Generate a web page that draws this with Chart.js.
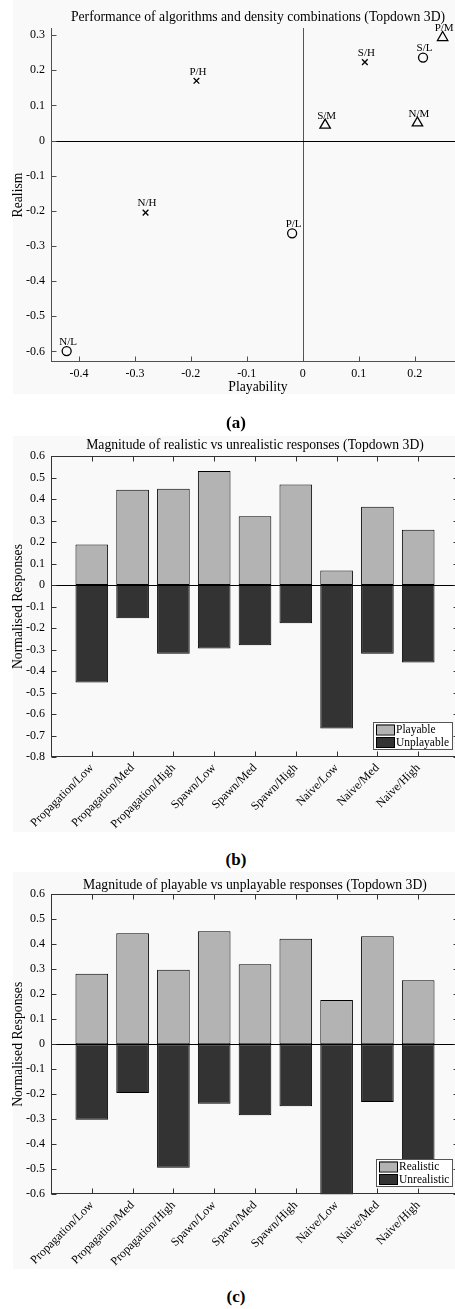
<!DOCTYPE html>
<html>
<head>
<meta charset="utf-8">
<title>Topdown 3D responses</title>
<script src="https://cdn.jsdelivr.net/npm/chart.js@4.4.0/dist/chart.umd.min.js"></script>
<style>
  html, body { margin: 0; padding: 0; background: #fff; overflow: hidden; width: 455px; height: 1309px; }
  .panel { position: absolute; left: 0; }
  .caption { position: absolute; left: 0; width: 472px; text-align: center; font: bold 17px "Liberation Serif", serif; color: #000; z-index: 2; }
</style>
</head>
<body>
<div class="panel" style="top:0"><canvas id="scatterChart" width="465" height="400"></canvas></div>
<div class="caption" style="top:413px">(a)</div>
<div class="panel" style="top:430px"><canvas id="realismChart" width="459" height="412"></canvas></div>
<div class="caption" style="top:850px">(b)</div>
<div class="panel" style="top:870px"><canvas id="playChart" width="459" height="412"></canvas></div>
<div class="caption" style="top:1287px">(c)</div>

<script>
// ---- scatter: playability vs realism, one series per density ----
const lowNames = ['N/L', 'P/L', 'S/L'];
const lowX = [-0.422, -0.019, 0.215];
const lowY = [-0.599, -0.264, 0.236];

const medNames = ['S/M', 'N/M', 'P/M'];
const medX = [0.040, 0.205, 0.250];
const medY = [0.044, 0.050, 0.293];

const highNames = ['P/H', 'S/H', 'N/H'];
const highX = [-0.190, 0.111, -0.281];
const highY = [0.170, 0.223, -0.205];

const scatterXTicks = [-0.4, -0.3, -0.2, -0.1, 0, 0.1, 0.2];
const scatterYTicks = [-0.6, -0.5, -0.4, -0.3, -0.2, -0.1, 0, 0.1, 0.2, 0.3];

// ---- bar charts ----
const categories = ['Propagation/Low', 'Propagation/Med', 'Propagation/High',
                    'Spawn/Low', 'Spawn/Med', 'Spawn/High',
                    'Naive/Low', 'Naive/Med', 'Naive/High'];
const categoryTicks = [1, 2, 3, 4, 5, 6, 7, 8, 9];

const playable   = [0.189, 0.443, 0.448, 0.530, 0.320, 0.468, 0.067, 0.364, 0.257];
const unplayable = [-0.453, -0.155, -0.320, -0.295, -0.280, -0.178, -0.667, -0.320, -0.360];
const realismTicks = [-0.8, -0.7, -0.6, -0.5, -0.4, -0.3, -0.2, -0.1, 0, 0.1, 0.2, 0.3, 0.4, 0.5, 0.6];

const realistic   = [0.282, 0.444, 0.298, 0.452, 0.320, 0.422, 0.177, 0.432, 0.256];
const unrealistic = [-0.302, -0.195, -0.494, -0.238, -0.284, -0.248, -0.660, -0.231, -0.520];
const playTicks = [-0.6, -0.5, -0.4, -0.3, -0.2, -0.1, 0, 0.1, 0.2, 0.3, 0.4, 0.5, 0.6];

const SERIF = '"Liberation Serif", "DejaVu Serif", serif';
const LIGHT = '#b3b3b3';
const DARK = '#333333';

function fmt(v) {
    return v === 0 ? '0' : v.toFixed(1);
}

function toPoints(xs, ys) {
    return xs.map((x, i) => ({ x: x, y: ys[i] }));
}

// keep the plot area exactly where the axes sizes put it
function fixX(h) {
    return s => { s.height = h; s.paddingLeft = 0; s.paddingRight = 0; };
}
function fixY(w) {
    return s => { s.width = w; s.paddingTop = 0; s.paddingBottom = 0; };
}

// faint figure background behind each panel
const figureBg = {
    id: 'figureBg',
    beforeDraw(chart, args, opts) {
        const ctx = chart.ctx;
        ctx.save();
        ctx.fillStyle = '#f9f9f9';
        ctx.fillRect(13, opts.y0, chart.width - 13, opts.y1 - opts.y0);
        ctx.restore();
    }
};

// matlab-ish axes: thin frame, ticks pointing inward, zero lines
const frameAxes = {
    id: 'frameAxes',
    afterDatasetsDraw(chart, args, opts) {
        const { ctx, chartArea: a, scales: { x, y } } = chart;
        const t = 5;
        const line = (x1, y1, x2, y2) => {
            ctx.beginPath();
            ctx.moveTo(x1, y1);
            ctx.lineTo(x2, y2);
            ctx.stroke();
        };
        ctx.save();
        ctx.lineWidth = 1;

        const y0 = Math.round(y.getPixelForValue(0)) + 0.5;
        if (opts.zeroX) {
            const x0 = Math.round(x.getPixelForValue(0)) + 0.5;
            ctx.strokeStyle = '#555';
            line(x0, a.top, x0, a.bottom);
        }
        ctx.strokeStyle = '#000';
        line(a.left, y0, a.right, y0);

        ctx.strokeStyle = opts.color;
        const L = Math.round(a.left) + 0.5;
        const B = Math.round(a.bottom) - 0.5;
        const T = Math.round(a.top) + 0.5;
        const R = Math.round(a.right) - 0.5;
        line(L, a.top, L, a.bottom);
        line(a.left, B, a.right, B);
        if (opts.box) {
            line(a.left, T, a.right, T);
            line(R, a.top, R, a.bottom);
        }
        y.ticks.forEach(tk => {
            const py = Math.round(y.getPixelForValue(tk.value)) + 0.5;
            line(L, py, L + t, py);
            if (opts.box) line(R - t, py, R, py);
        });
        x.ticks.forEach(tk => {
            const px = Math.round(x.getPixelForValue(tk.value)) + 0.5;
            line(px, B, px, B - t);
            if (opts.box) line(px, T, px, T + t);
        });
        ctx.restore();
    }
};

// names written just above each scatter marker
const pointNames = {
    id: 'pointNames',
    afterDatasetsDraw(chart) {
        const ctx = chart.ctx;
        ctx.save();
        ctx.font = '11px ' + SERIF;
        ctx.fillStyle = '#000';
        ctx.textAlign = 'center';
        ctx.textBaseline = 'middle';
        chart.data.datasets.forEach((ds, i) => {
            chart.getDatasetMeta(i).data.forEach((pt, j) => {
                ctx.fillText(ds.names[j], pt.x + 1.5, pt.y - 9);
            });
        });
        ctx.restore();
    }
};

// boxed legend sitting in the lower right corner of the plot
const boxLegend = {
    id: 'boxLegend',
    afterDraw(chart) {
        const { ctx, chartArea: a } = chart;
        const sets = chart.data.datasets;
        ctx.save();
        ctx.font = '11.5px ' + SERIF;
        const textW = Math.max(...sets.map(ds => ctx.measureText(ds.label).width));
        const w = Math.round(23 + textW + 3), h = 27;
        const right = Math.round(a.right) - 7, bottom = Math.round(a.bottom) - 8;
        const left = right - w, top = bottom - h;
        ctx.fillStyle = '#fff';
        ctx.fillRect(left, top, w, h);
        ctx.strokeStyle = '#555';
        ctx.lineWidth = 1;
        ctx.strokeRect(left + 0.5, top + 0.5, w, h);
        sets.forEach((ds, i) => {
            const cy = top + 7.5 + i * 12.5;
            ctx.fillStyle = ds.backgroundColor;
            ctx.fillRect(left + 3, cy - 5, 18, 10);
            ctx.strokeStyle = '#000';
            ctx.strokeRect(left + 3.5, cy - 4.5, 18, 10);
            ctx.fillStyle = '#000';
            ctx.textAlign = 'left';
            ctx.textBaseline = 'middle';
            ctx.fillText(ds.label, left + 23, cy + 0.5);
        });
        ctx.restore();
    }
};

const tickFont = { family: SERIF, size: 12 };
const titleFont = { family: SERIF, size: 13.7, weight: 'normal', lineHeight: 1.2 };
const noGrid = { display: false, drawTicks: false, tickLength: 0 };

// ---------- (a) scatter ----------
new Chart(document.getElementById('scatterChart'), {
    type: 'scatter',
    data: {
        datasets: [
            { label: 'Low', data: toPoints(lowX, lowY), names: lowNames,
              pointStyle: 'circle', pointRadius: 4.5 },
            { label: 'Med', data: toPoints(medX, medY), names: medNames,
              pointStyle: 'triangle', pointRadius: 6 },
            { label: 'High', data: toPoints(highX, highY), names: highNames,
              pointStyle: 'crossRot', pointRadius: 4 }
        ]
    },
    options: {
        responsive: false,
        animation: false,
        layout: { padding: 0, autoPadding: false },
        elements: {
            point: { borderColor: '#000', backgroundColor: 'rgba(0,0,0,0)', borderWidth: 1.3 }
        },
        scales: {
            x: {
                type: 'linear', min: -0.45, max: 0.29,
                afterBuildTicks: s => { s.ticks = scatterXTicks.map(v => ({ value: v })); },
                afterFit: fixX(38),
                grid: noGrid, border: { display: false },
                ticks: { font: tickFont, color: '#000', padding: 5, callback: v => fmt(v) },
                title: { display: true, text: 'Playability', font: titleFont, color: '#000',
                         padding: { top: 0, bottom: 4 } }
            },
            y: {
                type: 'linear', min: -0.63, max: 0.32,
                afterBuildTicks: s => { s.ticks = scatterYTicks.map(v => ({ value: v })); },
                afterFit: fixY(51),
                grid: noGrid, border: { display: false },
                ticks: { font: tickFont, color: '#000', padding: 6, callback: v => fmt(v) },
                title: { display: true, text: 'Realism', font: titleFont, color: '#000',
                         padding: { top: 10, bottom: 0 } }
            }
        },
        plugins: {
            legend: { display: false },
            tooltip: { enabled: false },
            title: {
                display: true, fullSize: false,
                text: 'Performance of algorithms and density combinations (Topdown 3D)',
                font: titleFont, color: '#000',
                padding: { top: 9, bottom: 2.6 }
            },
            figureBg: { y0: 0, y1: 394 },
            frameAxes: { box: false, zeroX: true, color: '#505050' }
        }
    },
    plugins: [figureBg, frameAxes, pointNames]
});

// ---------- (b) and (c) bars ----------
function barChart(id, posLabel, posVals, negLabel, negVals, yTicks, yMin, yMax, titleText, titlePad, xHeight, bg) {
    return new Chart(document.getElementById(id), {
        type: 'bar',
        data: {
            datasets: [
                { label: posLabel, data: toPoints(categoryTicks, posVals), backgroundColor: LIGHT },
                { label: negLabel, data: toPoints(categoryTicks, negVals), backgroundColor: DARK }
            ]
        },
        options: {
            responsive: false,
            animation: false,
            layout: { padding: 0, autoPadding: false },
            datasets: {
                bar: { borderColor: '#000', borderWidth: 1, borderSkipped: false,
                       categoryPercentage: 1, barPercentage: 0.8 }
            },
            scales: {
                x: {
                    type: 'linear', min: 0, max: 10, stacked: true, offset: false,
                    afterBuildTicks: s => { s.ticks = categoryTicks.map(v => ({ value: v })); },
                    afterFit: fixX(xHeight),
                    grid: noGrid, border: { display: false },
                    ticks: { font: { family: SERIF, size: 12 }, color: '#000', padding: 4,
                             autoSkip: false, minRotation: 45, maxRotation: 45,
                             callback: v => categories[v - 1] }
                },
                y: {
                    type: 'linear', min: yMin, max: yMax, stacked: true,
                    afterBuildTicks: s => { s.ticks = yTicks.map(v => ({ value: v })); },
                    afterFit: fixY(51),
                    grid: noGrid, border: { display: false },
                    ticks: { font: tickFont, color: '#000', padding: 6, callback: v => fmt(v) },
                    title: { display: true, text: 'Normalised Responses', font: titleFont, color: '#000',
                             padding: { top: 10, bottom: 0 } }
                }
            },
            plugins: {
                legend: { display: false },
                tooltip: { enabled: false },
                title: {
                    display: true, fullSize: false, text: titleText,
                    font: titleFont, color: '#000', padding: titlePad
                },
                figureBg: bg,
                frameAxes: { box: true, zeroX: false, color: '#333' }
            }
        },
        plugins: [figureBg, frameAxes, boxLegend]
    });
}

barChart('realismChart', 'Playable', playable, 'Unplayable', unplayable,
         realismTicks, -0.8, 0.6,
         'Magnitude of realistic vs unrealistic responses (Topdown 3D)',
         { top: 7.2, bottom: 2.4 }, 412 - 327, { y0: 6, y1: 402 });

barChart('playChart', 'Realistic', realistic, 'Unrealistic', unrealistic,
         playTicks, -0.6, 0.6,
         'Magnitude of playable vs unplayable responses (Topdown 3D)',
         { top: 7.2, bottom: 0.7 }, 412 - 324.3, { y0: 2, y1: 399 });
</script>
</body>
</html>
